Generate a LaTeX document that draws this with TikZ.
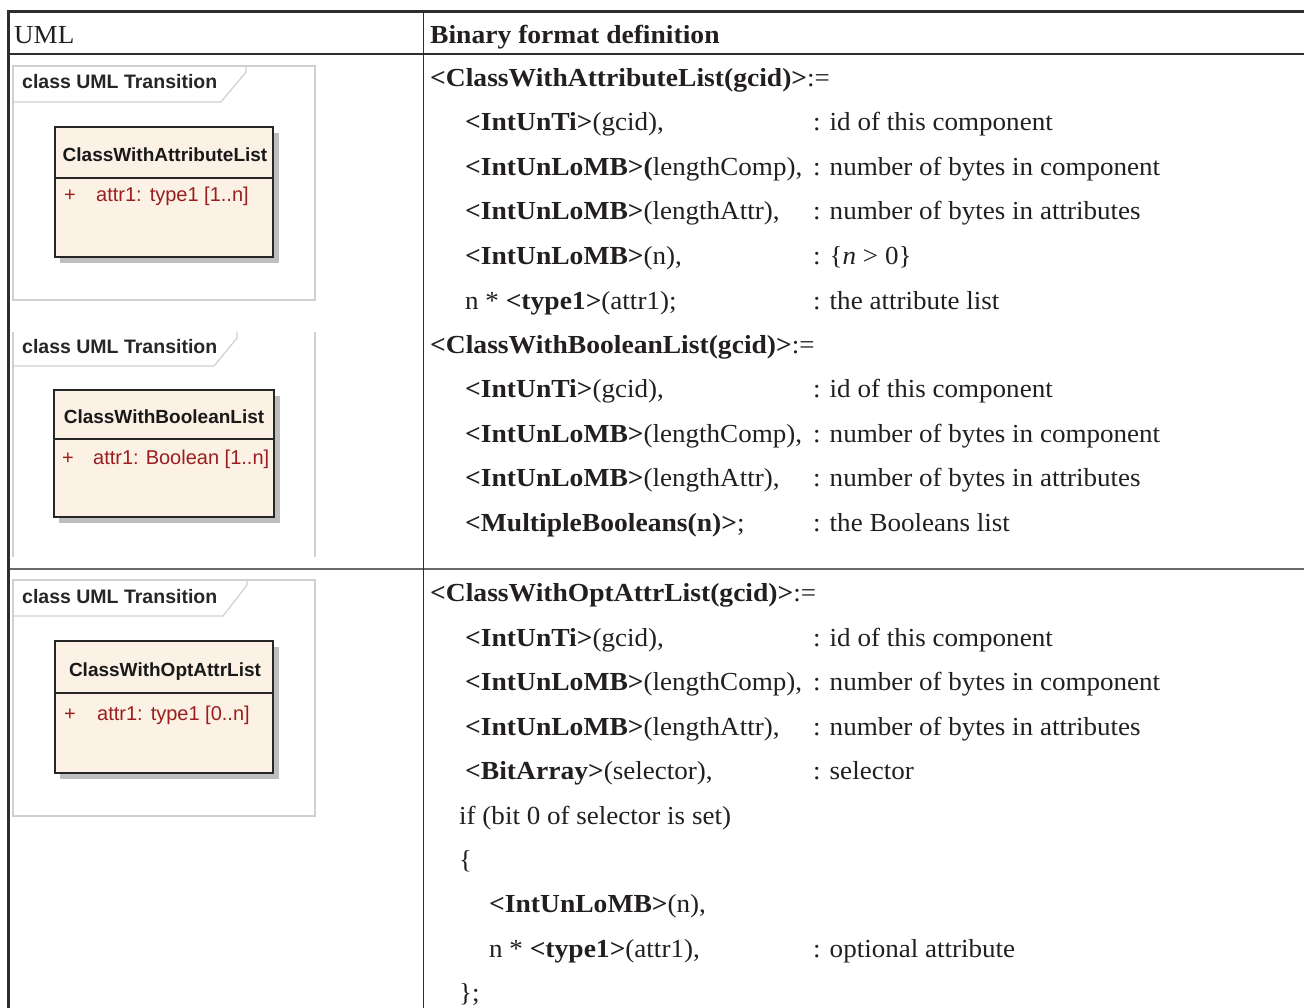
\documentclass[tikz,border=0pt]{standalone}
\usepackage{fontspec}
\setmainfont{Liberation Serif}[FakeStretch=1.04,BoldFeatures={FakeStretch=1.06}]
\newfontfamily\umlfont{Liberation Sans}
\definecolor{textc}{RGB}{35,31,32}
\definecolor{attrred}{RGB}{155,30,30}
\definecolor{boxfill}{RGB}{251,241,228}
\definecolor{framec}{RGB}{208,208,208}
\definecolor{shadowc}{RGB}{190,190,190}
\definecolor{rulec}{RGB}{45,45,45}
\definecolor{rowrule}{RGB}{105,105,105}
\tikzset{
  txt/.style={anchor=base west, inner sep=0pt, font=\fontsize{26}{30}\selectfont, text=textc},
  umltab/.style={anchor=base west, inner sep=0pt, font=\umlfont\bfseries\fontsize{19.5}{22}\selectfont, text=black!85},
  umltitle/.style={anchor=base, inner sep=0pt, font=\umlfont\bfseries\fontsize{19}{22}\selectfont, text=black!90},
  umlattr/.style={anchor=base west, inner sep=0pt, font=\umlfont\fontsize{20}{23}\selectfont, text=attrred},
  framel/.style={draw=framec, line width=1.2pt},
  classbox/.style={draw=black!85, line width=2pt, fill=boxfill},
  shadowbox/.style={fill=shadowc},
  toprule/.style={draw=rulec, line width=3pt},
  midrule/.style={draw=rulec, line width=2pt},
  colrule/.style={draw=rulec, line width=1.6pt},
  rowrulest/.style={draw=rowrule, line width=2pt}
}
\begin{document}
\begin{tikzpicture}[x=1pt,y=-1pt]
\useasboundingbox (0,0) rectangle (1304,1008);
\fill[white] (0,0) rectangle (1304,1008);

% table rules
\draw[toprule] (6.5,11.5) -- (1304,11.5);
\draw[midrule] (8,54) -- (1304,54);
\draw[rowrulest] (8,568.5) -- (1304,568.5);
\draw[toprule] (8,10) -- (8,1008);
\draw[colrule] (423.5,11.5) -- (423.5,1008);

% header texts
\node[txt] (hUML) at (14,44) {UML};
\node[txt] (hBin) at (430,44) {\textbf{Binary format definition}};

% ---------- UML frame 1
\draw[framel] (13,66) rectangle (315,300);
\draw[framel] (13,102) -- (221,102) -- (246,72) -- (246,66);
\node[umltab] (tab1) at (22,89) {class UML Transition};
\fill[shadowbox] (60,133) rectangle (278.5,263);
\filldraw[classbox] (54.5,127) rectangle (272.5,257);
\draw[classbox] (54.5,178) -- (272.5,178);
\node[umltitle] (t1) at (165,162) {ClassWithAttributeList};
\node[umlattr] (p1) at (64,202) {+};
\node[umlattr] (a1) at (96,202) {attr1:\hspace{8pt}type1 [1..n]};

% ---------- UML frame 2
\draw[framel] (13,332) -- (13,557);
\draw[framel] (315,332) -- (315,557);
\draw[framel] (13,366) -- (214,366) -- (237,338) -- (237,332);
\node[umltab] (tab2) at (22,353) {class UML Transition};
\fill[shadowbox] (59,396) rectangle (280,523);
\filldraw[classbox] (53.5,390) rectangle (274,517);
\draw[classbox] (53.5,439) -- (274,439);
\node[umltitle] (t2) at (164,423.5) {ClassWithBooleanList};
\node[umlattr] (p2) at (62,464) {+};
\node[umlattr] (a2) at (93,464) {attr1:\hspace{7pt}Boolean [1..n]};

% ---------- UML frame 3
\draw[framel] (13,580) rectangle (315,816);
\draw[framel] (13,616) -- (223,616) -- (247,585) -- (247,580);
\node[umltab] (tab3) at (22,603) {class UML Transition};
\fill[shadowbox] (60,647) rectangle (278.5,779);
\filldraw[classbox] (54.5,641) rectangle (272.5,773);
\draw[classbox] (54.5,692.5) -- (272.5,692.5);
\node[umltitle] (t3) at (165,676) {ClassWithOptAttrList};
\node[umlattr] (p3) at (64,720) {+};
\node[umlattr] (a3) at (97,720) {attr1:\hspace{8pt}type1 [0..n]};

% ---------- Binary definitions, block 1
\node[txt] (d1) at (430,87) {\textbf{<ClassWithAttributeList(gcid)>}:=};
\node[txt] (d1a) at (465,131) {\textbf{<IntUnTi>}(gcid),};
\node[txt] (d1ac) at (813,131) {: id of this component};
\node[txt] (d1b) at (465,176) {\textbf{<IntUnLoMB>(}lengthComp),};
\node[txt] (d1bc) at (813,176) {: number of bytes in component};
\node[txt] (d1c) at (465,220) {\textbf{<IntUnLoMB>}(lengthAttr),};
\node[txt] (d1cc) at (813,220) {: number of bytes in attributes};
\node[txt] (d1d) at (465,265) {\textbf{<IntUnLoMB>}(n),};
\node[txt] (d1dc) at (813,265) {: \{\textit{n} > 0\}};
\node[txt] (d1e) at (465,309) {n * \textbf{<type1>}(attr1);};
\node[txt] (d1ec) at (813,309) {: the attribute list};

% block 2
\node[txt] (d2) at (430,353) {\textbf{<ClassWithBooleanList(gcid)>}:=};
\node[txt] (d2a) at (465,397) {\textbf{<IntUnTi>}(gcid),};
\node[txt] (d2ac) at (813,397) {: id of this component};
\node[txt] (d2b) at (465,442) {\textbf{<IntUnLoMB>}(lengthComp),};
\node[txt] (d2bc) at (813,442) {: number of bytes in component};
\node[txt] (d2c) at (465,486) {\textbf{<IntUnLoMB>}(lengthAttr),};
\node[txt] (d2cc) at (813,486) {: number of bytes in attributes};
\node[txt] (d2d) at (465,531) {\textbf{<MultipleBooleans(n)>};};
\node[txt] (d2dc) at (813,531) {: the Booleans list};

% block 3
\node[txt] (d3) at (430,601) {\textbf{<ClassWithOptAttrList(gcid)>}:=};
\node[txt] (d3a) at (465,646) {\textbf{<IntUnTi>}(gcid),};
\node[txt] (d3ac) at (813,646) {: id of this component};
\node[txt] (d3b) at (465,690) {\textbf{<IntUnLoMB>}(lengthComp),};
\node[txt] (d3bc) at (813,690) {: number of bytes in component};
\node[txt] (d3c) at (465,735) {\textbf{<IntUnLoMB>}(lengthAttr),};
\node[txt] (d3cc) at (813,735) {: number of bytes in attributes};
\node[txt] (d3d) at (465,779) {\textbf{<BitArray>}(selector),};
\node[txt] (d3dc) at (813,779) {: selector};
\node[txt] (d3e) at (459,824) {if (bit 0 of selector is set)};
\node[txt] (d3f) at (459,868) {\{};
\node[txt] (d3g) at (489,912) {\textbf{<IntUnLoMB>}(n),};
\node[txt] (d3h) at (489,957) {n * \textbf{<type1>}(attr1),};
\node[txt] (d3hc) at (813,957) {: optional attribute};
\node[txt] (d3i) at (459,1001) {\};};
\end{tikzpicture}
\end{document}
